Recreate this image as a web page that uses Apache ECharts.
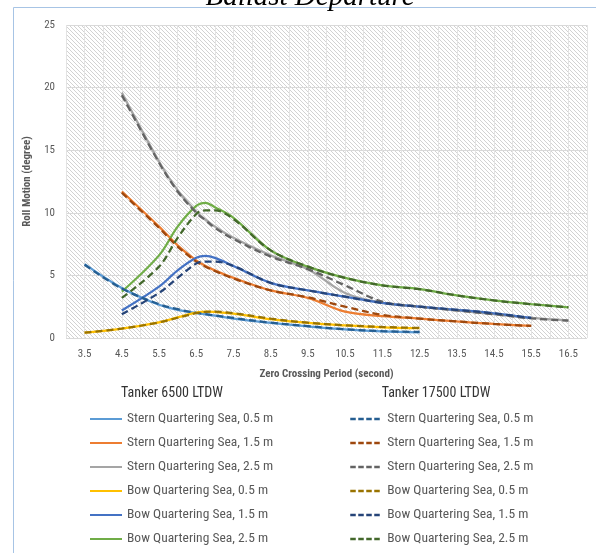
<!DOCTYPE html>
<html>
<head>
<meta charset="utf-8">
<script src="https://cdn.jsdelivr.net/npm/echarts@6/dist/echarts.min.js"></script>
<style>html,body{margin:0;padding:0;background:#fff}#c{width:596px;height:553px}</style>
</head>
<body>
<div id="c"></div>
<script>
// ---- data ----
const xs = [3.5, 4.5, 5.5, 6, 6.5, 6.75, 7, 7.5, 8.5, 9.5, 10.5, 11.5, 12.5, 13.5, 14.5, 15.5, 16.5];
const xTicks = ['3.5','4.5','5.5','6.5','7.5','8.5','9.5','10.5','11.5','12.5','13.5','14.5','15.5','16.5'];
const seriesNames = ['Stern Quartering Sea, 0.5 m','Stern Quartering Sea, 1.5 m','Stern Quartering Sea, 2.5 m',
                     'Bow Quartering Sea, 0.5 m','Bow Quartering Sea, 1.5 m','Bow Quartering Sea, 2.5 m'];
const groupNames = ['Tanker 6500 LTDW', 'Tanker 17500 LTDW'];

// Tanker 6500 LTDW (solid)
const s05_6500 = [5.9, 4.0, 2.65, 2.25, 2.0, 1.88, 1.78, 1.55, 1.2, 0.92, 0.68, 0.52, 0.45, null, null, null, null];
const s15_6500 = [null, 11.7, 8.9, 7.4, 6.2, 5.75, 5.4, 4.8, 3.8, 3.2, 2.1, 1.75, 1.55, 1.32, 1.12, 0.96, null];
const s25_6500 = [null, 19.6, 14.1, 11.8, 10.1, 9.45, 8.9, 8.0, 6.6, 5.5, 3.6, 2.8, 2.5, 2.2, 1.9, 1.6, 1.4];
const b05_6500 = [0.42, 0.75, 1.25, 1.65, 2.02, 2.1, 2.08, 1.95, 1.5, 1.2, 1.0, 0.85, 0.78, null, null, null, null];
const b15_6500 = [null, 2.2, 4.1, 5.4, 6.4, 6.55, 6.4, 5.75, 4.4, 3.8, 3.3, 2.8, 2.5, 2.25, 1.97, 1.6, null];
const b25_6500 = [null, 3.7, 6.6, 8.9, 10.55, 10.8, 10.45, 9.6, 7.0, 5.7, 4.8, 4.2, 3.9, 3.4, 3.0, 2.7, 2.45];
// Tanker 17500 LTDW (dashed)
const s05_17500 = [5.85, 3.95, 2.7, 2.3, 2.0, 1.9, 1.8, 1.6, 1.22, 0.95, 0.7, 0.55, 0.48, null, null, null, null];
const s15_17500 = [null, 11.6, 8.8, 7.3, 6.1, 5.7, 5.35, 4.75, 3.8, 3.25, 2.5, 1.85, 1.55, 1.32, 1.12, 0.96, null];
const s25_17500 = [null, 19.4, 14.0, 11.7, 10.0, 9.4, 8.8, 7.9, 6.5, 5.5, 4.2, 2.9, 2.5, 2.2, 1.9, 1.57, 1.38];
const b05_17500 = [0.42, 0.75, 1.25, 1.62, 1.98, 2.08, 2.1, 1.98, 1.55, 1.22, 1.02, 0.88, 0.8, null, null, null, null];
const b15_17500 = [null, 1.9, 3.6, 4.8, 5.95, 6.1, 6.1, 5.75, 4.4, 3.8, 3.3, 2.8, 2.5, 2.25, 1.97, 1.6, null];
const b25_17500 = [null, 3.2, 5.7, 8.0, 9.9, 10.2, 10.2, 9.5, 7.0, 5.7, 4.8, 4.2, 3.9, 3.4, 3.0, 2.7, 2.45];

const solidColors = ['#5B9BD5','#ED7D31','#A5A5A5','#FFC000','#4472C4','#70AD47'];
const dashColors  = ['#255E91','#9E480E','#636363','#997300','#264478','#43682B'];

const solidData = [s05_6500, s15_6500, s25_6500, b05_6500, b15_6500, b25_6500];
const dashData  = [s05_17500, s15_17500, s25_17500, b05_17500, b15_17500, b25_17500];

// ---- hatch pattern for plot background ----
const pc = document.createElement('canvas');
pc.width = 4; pc.height = 4;
const pctx = pc.getContext('2d');
pctx.fillStyle = '#ffffff'; pctx.fillRect(0,0,4,4);
pctx.fillStyle = '#d2d2d2';
for (let i = 0; i < 4; i++) pctx.fillRect(i, i, 1, 1);

const FONT = "'Liberation Sans Narrow', 'Roboto Condensed', 'Liberation Sans', sans-serif";

function pairs(arr){ const out=[]; arr.forEach((v,i)=>{ if(v!==null) out.push([xs[i], v]); }); return out; }

const series = [];
solidData.forEach((d,i)=>{
  series.push({
    name: 'A|' + seriesNames[i], type:'line', smooth:0.35, symbol:'none',
    data: pairs(d), lineStyle:{color:solidColors[i], width:2.25}, itemStyle:{color:solidColors[i]}, z:2
  });
});
dashData.forEach((d,i)=>{
  series.push({
    name: 'B|' + seriesNames[i], type:'line', smooth:0.35, symbol:'none',
    data: pairs(d), lineStyle:{color:dashColors[i], width:2.25, type:[7,4]}, itemStyle:{color:dashColors[i]}, z:3
  });
});

const legendCommon = {orient:'vertical', top:412, padding:0, itemWidth:32, itemHeight:14, itemGap:10, itemTextGap:1,
  formatter:n=>n.slice(2), itemStyle:{opacity:0, borderWidth:0},
  textStyle:{fontFamily:FONT, fontSize:13.5, color:'#595959'}};

const chart = echarts.init(document.getElementById('c'), null, {renderer:'canvas'});
chart.setOption({
  animation:false,
  backgroundColor:'#ffffff',
  grid:{left:66, top:25, right:9, bottom:215, show:true, borderWidth:0,
        backgroundColor:{image:pc, repeat:'repeat'}},
  xAxis:{
    type:'value', min:3, max:17, interval:0.5,
    name:'Zero Crossing Period (second)', nameLocation:'middle', nameGap:31,
    nameTextStyle:{fontFamily:FONT, fontSize:11, fontWeight:'bold', color:'#595959'},
    axisLine:{show:false}, axisTick:{show:false},
    axisLabel:{margin:11, fontFamily:FONT, fontSize:11, color:'#595959',
      formatter:function(v){ const s=v.toFixed(1); return xTicks.indexOf(s)>=0 ? s : ''; }},
    splitLine:{show:true, lineStyle:{color:'#e3e3e3', width:1}}
  },
  yAxis:{
    type:'value', min:0, max:25, interval:5,
    name:'Roll Motion (degree)', nameLocation:'middle', nameGap:30,
    nameTextStyle:{fontFamily:FONT, fontSize:11, fontWeight:'bold', color:'#595959'},
    axisLine:{show:false}, axisTick:{show:false},
    axisLabel:{margin:11, fontFamily:FONT, fontSize:11, color:'#595959'},
    splitLine:{show:true, lineStyle:{color:'#d9d9d9', width:1}}
  },
  legend:[
    Object.assign({left:89, data: seriesNames.map(n=>'A|'+n)}, legendCommon),
    Object.assign({left:349, data: seriesNames.map(n=>'B|'+n), lineStyle:{type:[5.5,2.5], width:2.5}}, legendCommon)
  ],
  graphic:[
    {type:'rect', shape:{x:13.5, y:7.5, width:600, height:600}, style:{fill:'none', stroke:'#a7c4e5', lineWidth:1}, z:-1, silent:true},
    {type:'text', x:310, y:12, style:{text:'Ballast Departure', font:"italic 29px 'Liberation Serif', 'Times New Roman', serif", fill:'#000', align:'center', verticalAlign:'bottom'}},
    {type:'text', x:172, y:393, style:{text:groupNames[0], font:"14px " + FONT, fill:'#333333', align:'center', verticalAlign:'middle'}},
    {type:'text', x:436, y:393, style:{text:groupNames[1], font:"14px " + FONT, fill:'#333333', align:'center', verticalAlign:'middle'}}
  ],
  series: series
});
</script>
</body>
</html>
